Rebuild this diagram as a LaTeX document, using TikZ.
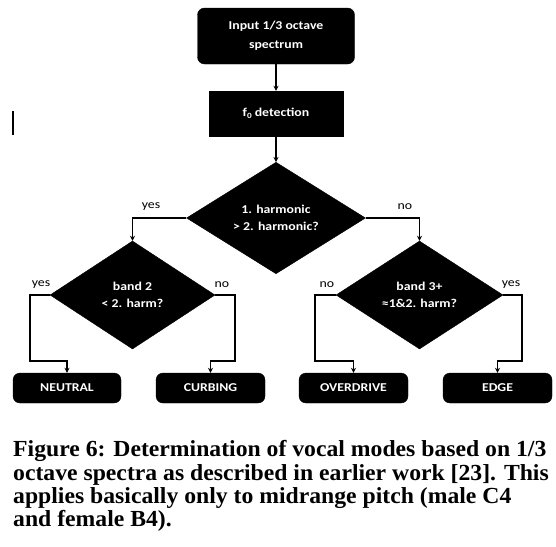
\documentclass[tikz,border=0pt]{standalone}
\usepackage{fontspec}
\setmainfont{Liberation Serif}
\newfontfamily\capfont[FakeStretch=1.03]{Liberation Serif}
\newfontfamily\boxfont[FakeStretch=1.15]{Carlito}
\usetikzlibrary{shapes.geometric,arrows.meta}
\newcommand{\subzero}{\raisebox{-2pt}{\fontsize{8}{8}\selectfont 0}}
\begin{document}
\begin{tikzpicture}[x=1pt,y=-1pt,
  term/.style={rectangle,rounded corners=7pt,fill=black,draw=black,text=white,inner sep=0pt,font=\boxfont\bfseries\fontsize{12}{19}\selectfont,align=center},
  procbox/.style={rectangle,fill=black,draw=black,text=white,inner sep=0pt,font=\boxfont\bfseries\fontsize{12}{19}\selectfont,align=center},
  decision/.style={diamond,fill=black,draw=black,text=white,inner sep=0pt,font=\boxfont\bfseries\fontsize{12}{17.5}\selectfont,align=center},
  arr/.style={line width=1.4pt,-{Stealth[length=5pt,width=5pt]}},
  lab/.style={font=\boxfont\fontsize{12}{13}\selectfont,inner sep=0pt}]
\useasboundingbox (0,0) rectangle (556,546);
\node[term,minimum width=157pt,minimum height=56pt] (inp) at (276,36) {Input 1/3 octave\\spectrum};
\node[procbox,minimum width=134pt,minimum height=45pt] (f0) at (276,113.5) {f\subzero\ detection};
\node[decision,minimum width=179pt,minimum height=110pt] (d1) at (276,218) {1. harmonic\\> 2. harmonic?};
\node[decision,minimum width=165pt,minimum height=108pt] (d2) at (132.5,295) {band 2\\< 2. harm?};
\node[decision,minimum width=167pt,minimum height=108pt] (d3) at (419.5,295) {band 3+\\≈1\&2. harm?};
\node[term,minimum width=108pt,minimum height=30pt] (neu) at (67,388) {NEUTRAL};
\node[term,minimum width=109pt,minimum height=30pt] (cur) at (210.5,388) {CURBING};
\node[term,minimum width=109pt,minimum height=30pt] (ovr) at (353.5,388) {OVERDRIVE};
\node[term,minimum width=109pt,minimum height=30pt] (edg) at (497.5,388) {EDGE};
\draw[arr] (inp.south) -- (f0.north);
\draw[arr] (f0.south) -- (d1.north);
\draw[arr] (d1.west) -| (d2.north);
\draw[arr] (d1.east) -| (d3.north);
\coordinate (c1) at (30,361);
\coordinate (c2) at (235,361);
\coordinate (c3) at (315,361);
\coordinate (c4) at (522,361);
\draw[arr] (d2.west) -| (c1) -| (neu.north);
\draw[arr] (d2.east) -| (c2) -| (cur.north);
\draw[arr] (d3.west) -| (c3) -| (ovr.north);
\draw[arr] (d3.east) -| (c4) -| (edg.north);
\node[lab] (l1) at (151,207) {yes};
\node[lab] (l2) at (405,207) {no};
\node[lab] (l3) at (41,285) {yes};
\node[lab] (l4) at (222,285) {no};
\node[lab] (l5) at (327,285) {no};
\node[lab] (l6) at (511,285) {yes};
\draw[line width=2pt] (12.5,111) -- (12.5,135);
\node[anchor=north west,inner sep=0pt,align=left,font=\capfont\bfseries\fontsize{23}{23.3}\selectfont] (cap) at (13,440.5)
{Figure 6: Determination of vocal modes based on 1/3\\
octave spectra as described in earlier work [23]. This\\
applies basically only to midrange pitch (male C4\\
and female B4).};
\end{tikzpicture}
\end{document}
